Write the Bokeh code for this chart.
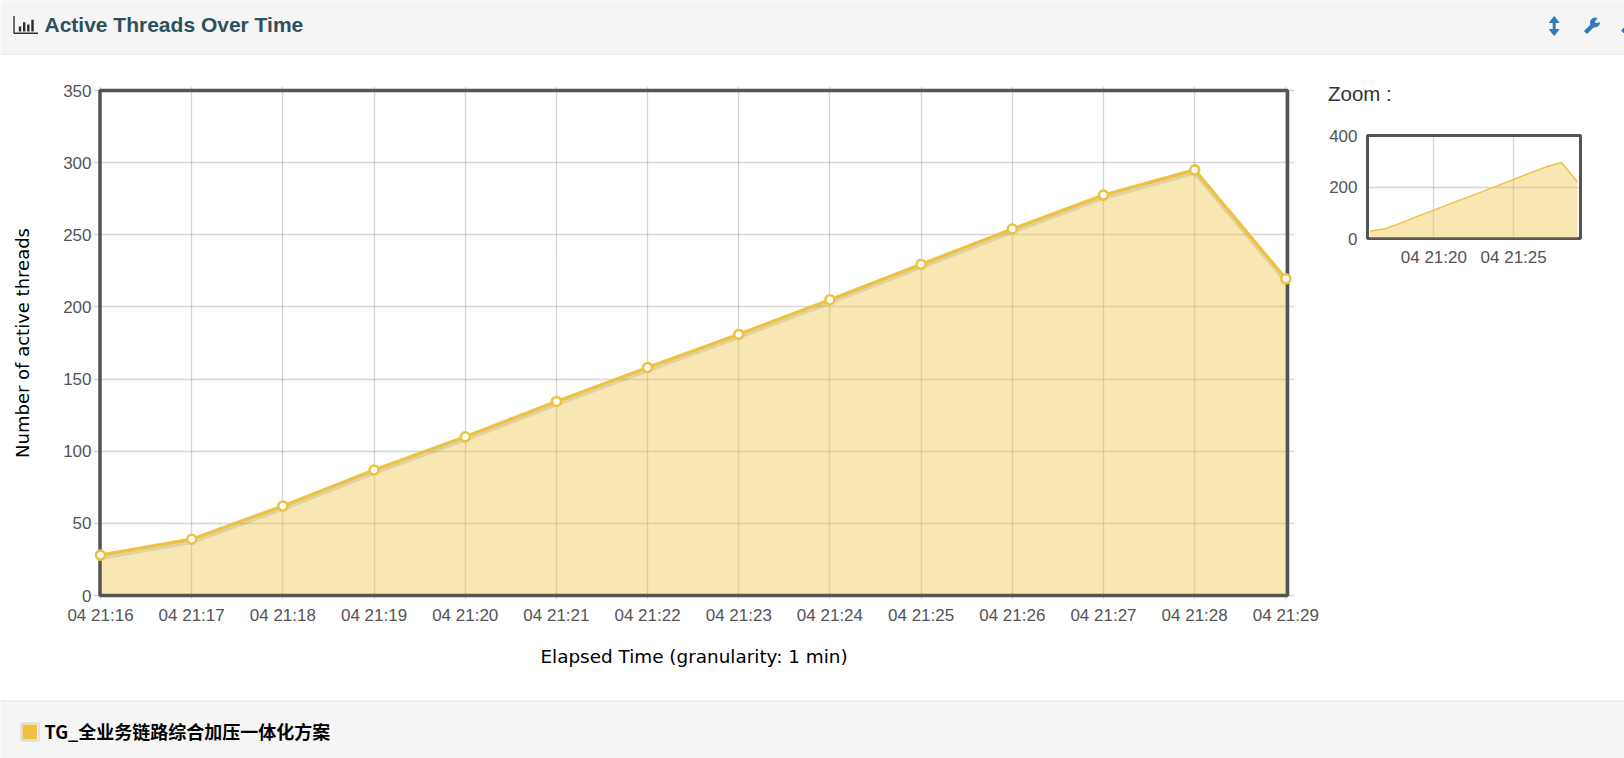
from datetime import datetime, timezone
from bokeh.plotting import figure
from bokeh.layouts import column, row
from bokeh.models import Range1d, FixedTicker, DatetimeTickFormatter, Grid
from bokeh.core.properties import value
from bokeh.embed import file_html
from bokeh.resources import INLINE

# ---- data
times = ["21:16", "21:17", "21:18", "21:19", "21:20", "21:21", "21:22",
         "21:23", "21:24", "21:25", "21:26", "21:27", "21:28", "21:29"]
threads = [28, 39, 62, 87, 110, 134.5, 158, 181, 205, 229.5, 254, 277.5, 295, 219.5]
y_ticks_main = [0, 50, 100, 150, 200, 250, 300, 350]
y_ticks_zoom = [0, 200, 400]
x_ticks_zoom = ["21:20", "21:25"]
title = "Active Threads Over Time"
series_name = "TG_全业务链路综合加压一体化方案"
y_label = "Number of active threads"
x_label = "Elapsed Time (granularity: 1 min)"
zoom_title = "Zoom :"

YEL = "#edc240"
DARK = "#545454"
BAND = "#f5f5f5"
BLUE = "#337ab7"
SANS = "Liberation Sans"
LBL = "DejaVu Sans"


def ms(t):
    return datetime.strptime("2021-01-04 " + t, "%Y-%m-%d %H:%M").replace(tzinfo=timezone.utc).timestamp() * 1000


x = [ms(t) for t in times]
MIN = 60000.0
FMT = DatetimeTickFormatter(minutes="%d %H:%M", hours="%d %H:%M", minsec="%d %H:%M", hourmin="%d %H:%M", seconds="%d %H:%M", days="%d %H:%M")


def band(w, h, color=BAND):
    f = figure(width=w, height=h, x_range=Range1d(0, w), y_range=Range1d(h, 0),
               output_backend="svg", toolbar_location=None, min_border=0,
               background_fill_color=color, border_fill_color=color, outline_line_color=None)
    f.axis.visible = False
    f.grid.visible = False
    return f


def style_axis(ax, ticks):
    ax.ticker = FixedTicker(ticks=ticks)
    ax.axis_line_color = None
    ax.major_tick_line_color = None
    ax.minor_tick_line_color = None
    ax.major_tick_out = 0
    ax.major_tick_in = 0
    ax.minor_tick_out = 0
    ax.minor_tick_in = 0
    ax.major_label_text_font = SANS
    ax.major_label_text_font_size = "17px"
    ax.major_label_text_color = DARK


# ---- header
head = band(1624, 55)
head.line([0, 1624], [54.5, 54.5], line_color="#e4e4e4", line_width=1)
head.line([13.5, 13.5, 37.5], [15.6, 32.7, 32.7], line_color="#333333", line_width=1.4)
head.segment([19.5, 23.7, 27.8, 32], [31, 31, 31, 31], [19.5, 23.7, 27.8, 32], [26, 21.7, 24, 19.3],
             line_color="#2b2b2b", line_width=2.4)
head.text([44], [24], text=[title], text_font=value(SANS), text_font_style="bold",
          text_font_size="21px", text_color="#2d515c", text_baseline="middle", text_align="left")
# tool icons
head.segment([1553.7], [19], [1553.7], [31], line_color=BLUE, line_width=3)
head.patch([1549, 1553.7, 1558.4], [22, 16, 22], color=BLUE)
head.patch([1549, 1553.7, 1558.4], [29, 35, 29], color=BLUE)
head.segment([1585], [32], [1593], [24], line_color=BLUE, line_width=4.5)
head.scatter([1594.5], [22], size=9, color=BLUE)
head.patch([1594.5, 1600, 1600, 1596], [21.5, 15, 21, 22], color=BAND)
head.patch([1621, 1624, 1624], [30, 27, 33], color=BLUE)

# ---- main chart
PX = 91.18  # px per minute
PY = 505.0 / 350
pady = 4 / PY
main = figure(width=1320, height=645, x_axis_type="datetime",
              x_range=Range1d(x[0] - 7 / PX * MIN, x[0] + (1294 - 100) / PX * MIN),
              y_range=Range1d(-pady, 350 + pady),
              output_backend="svg", toolbar_location=None,
              min_border_left=93, min_border_right=26, min_border_top=31, min_border_bottom=101,
              background_fill_color="white", border_fill_color="white", outline_line_color=None,
              x_axis_label=x_label, y_axis_label=y_label)
main.grid.visible = False
box_l, box_r = x[0] - 0.5 / PX * MIN, x[-1] + 1.7 / PX * MIN
main.add_layout(Grid(dimension=0, ticker=FixedTicker(ticks=x), bounds=(x[0], x[-1]),
                     grid_line_color=DARK, grid_line_alpha=0.24, grid_line_width=1.3))
main.add_layout(Grid(dimension=1, ticker=FixedTicker(ticks=y_ticks_main), bounds=(box_l, box_r),
                     grid_line_color=DARK, grid_line_alpha=0.24, grid_line_width=1.3))
main.varea(x, [0] * len(x), threads, fill_color=YEL, fill_alpha=0.4)
main.line(x, [v - 2 for v in threads], line_color="#000000", line_alpha=0.09, line_width=4)
main.line(x, threads, line_color=YEL, line_width=3.3)
main.quad(left=[box_l], right=[box_r], bottom=[0], top=[350], fill_color=None,
          line_color=DARK, line_width=3.5)
main.scatter(x, threads, size=9, fill_color="white", line_color=YEL, line_width=2.6)

style_axis(main.xaxis[0], x)
style_axis(main.yaxis[0], y_ticks_main)
for ax in (main.xaxis[0], main.yaxis[0]):
    ax.axis_label_text_font = LBL
    ax.axis_label_text_font_style = "normal"
    ax.axis_label_text_color = "#000000"
main.xaxis[0].axis_label_text_font_size = "18.4px"
main.yaxis[0].axis_label_text_font_size = "18px"
main.xaxis[0].formatter = FMT
main.xaxis[0].major_label_standoff = 6
main.xaxis[0].axis_label_standoff = 18
main.yaxis[0].major_label_standoff = 2
main.yaxis[0].axis_label_standoff = 27

# ---- zoom overview
ztitle = band(304, 70, "white")
ztitle.text([7.5], [38], text=[zoom_title], text_font=value(SANS), text_font_size="20.5px",
            text_color="#333333", text_baseline="middle", text_align="left")

ZPX = 15.93  # px per minute
zoom = figure(width=304, height=575, x_axis_type="datetime",
              x_range=Range1d(x[0] - 2.5 / ZPX * MIN, x[-1] + 3 / ZPX * MIN), y_range=Range1d(0, 400),
              output_backend="svg", toolbar_location=None,
              min_border_left=47, min_border_right=44, min_border_top=10, min_border_bottom=462,
              background_fill_color="white", border_fill_color="white",
              outline_line_color=DARK, outline_line_width=3)
zoom.grid.visible = False
zoom_xt = [ms(t) for t in x_ticks_zoom]
zoom.add_layout(Grid(dimension=0, ticker=FixedTicker(ticks=zoom_xt),
                     grid_line_color=DARK, grid_line_alpha=0.24, grid_line_width=1.3))
zoom.add_layout(Grid(dimension=1, ticker=FixedTicker(ticks=y_ticks_zoom),
                     grid_line_color=DARK, grid_line_alpha=0.24, grid_line_width=1.3))
zoom.varea(x, [0] * len(x), threads, fill_color=YEL, fill_alpha=0.4)
zoom.line(x, threads, line_color=YEL, line_width=1.4)
style_axis(zoom.xaxis[0], zoom_xt)
style_axis(zoom.yaxis[0], y_ticks_zoom)
zoom.xaxis[0].formatter = FMT
zoom.xaxis[0].major_label_standoff = 9
zoom.yaxis[0].major_label_standoff = 10

# ---- footer legend
foot = band(1624, 58)
foot.line([0, 1624], [0.5, 0.5], line_color="#dddddd", line_width=1)
foot.quad(left=[20.5], right=[38.5], top=[22.5], bottom=[40.5], fill_color=BAND,
          line_color="#cccccc", line_width=1)
foot.quad(left=[22], right=[36.5], top=[24], bottom=[39], fill_color=YEL, line_color=None)
foot.text([44], [30], text=[series_name], text_font=value("Noto Sans CJK SC"),
          text_font_style="bold", text_font_size="18px", text_color="#000000",
          text_baseline="middle", text_align="left")

right_col = column(column(ztitle), column(zoom), spacing=0)
root = column(head, row(column(main), right_col, spacing=0), foot, spacing=0,
              styles={"position": "absolute", "left": "0", "top": "0"})
open("out.html", "w").write(file_html(root, INLINE))
